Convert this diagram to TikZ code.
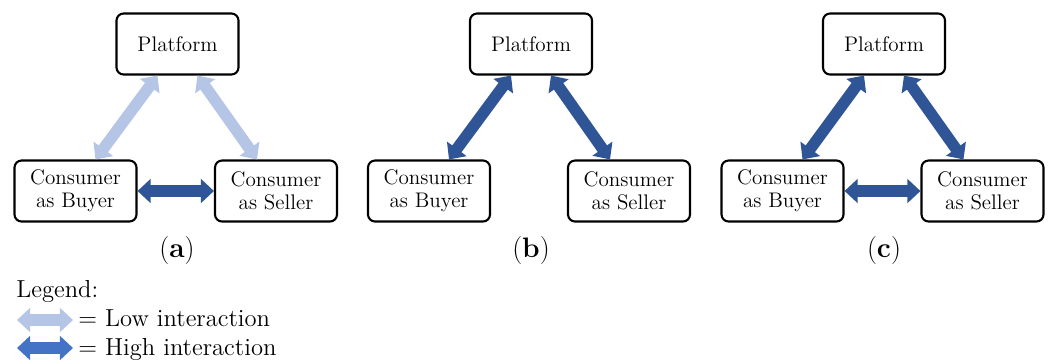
\documentclass[tikz,border=0pt]{standalone}
\usepackage{xcolor}
\usepackage{tikz}
\usetikzlibrary{arrows.meta}
\definecolor{lowblue}{RGB}{180,197,229}
\definecolor{highblue}{RGB}{47,85,151}
\definecolor{legendblue}{RGB}{68,114,196}
\tikzset{
  actor/.style={
    draw, line width=1.2pt, rounded corners=4pt,
    minimum width=2.44cm, minimum height=1.22cm,
    align=center, font=\fontsize{12}{13}\selectfont
  },
  link/.style={
    line width=6.5pt, draw=#1,
    arrows={Triangle[length=7.5pt,width=13.5pt]-Triangle[length=7.5pt,width=13.5pt]}
  },
  low/.style={link=lowblue},
  high/.style={link=highblue},
  caption/.style={font=\fontsize{16}{18}\selectfont}
}

\begin{document}
\begin{tikzpicture}[x=0.02cm,y=-0.02cm]
    \useasboundingbox (0,0) rectangle (1051,363);
        \begin{scope}[every node/.style={actor}]
            \node (Pa) at (177.5, 44) {Platform};
            \node (Ba) at (75.5, 191) {Consumer\\as Buyer};
            \node (Sa) at (276, 191) {Consumer\\as Seller};

            \node (Pb) at (531, 44) {Platform};
            \node (Bb) at (429, 191) {Consumer\\as Buyer};
            \node (Sb) at (629, 191) {Consumer\\as Seller};

            \node (Pc) at (884, 44) {Platform};
            \node (Bc) at (782.5, 191) {Consumer\\as Buyer};
            \node (Sc) at (982.5, 191) {Consumer\\as Seller};
        \end{scope}

        \node[caption] (La) at (177, 250) {(\textbf{a})};
        \node[caption] (Lb) at (531, 250) {(\textbf{b})};
        \node[caption] (Lc) at (884, 250) {(\textbf{c})};

        % (a)
        \draw [low] ([xshift=-0.4cm]Pa.south) -- ([xshift=0.4cm]Ba.north);
        \draw [low] ([xshift=0.4cm]Pa.south) -- ([xshift=-0.38cm]Sa.north);
        \draw [high] (Ba.east) -- (Sa.west);

        % (b)
        \draw [high] ([xshift=-0.4cm]Pb.south) -- ([xshift=0.4cm]Bb.north);
        \draw [high] ([xshift=0.4cm]Pb.south) -- ([xshift=-0.38cm]Sb.north);

        % (c)
        \draw [high] ([xshift=-0.4cm]Pc.south) -- ([xshift=0.4cm]Bc.north);
        \draw [high] ([xshift=0.4cm]Pc.south) -- ([xshift=-0.38cm]Sc.north);
        \draw [high] (Bc.east) -- (Sc.west);

        % legend
        \begin{scope}[every node/.style={font=\fontsize{14}{16}\selectfont, anchor=base west, inner sep=0pt}]
            \node (legend) at (16, 297) {Legend:};
            \coordinate (lowA) at (17, 320);
            \coordinate (lowB) at (73, 320);
            \coordinate (highA) at (17, 348);
            \coordinate (highB) at (73, 348);
            \node (lowtext) at (78, 326) {= Low interaction};
            \node (hightext) at (78, 355) {= High interaction};
        \end{scope}
        \draw [link=lowblue] (lowA) -- (lowB);
        \draw [link=legendblue] (highA) -- (highB);
\end{tikzpicture}
\end{document}
